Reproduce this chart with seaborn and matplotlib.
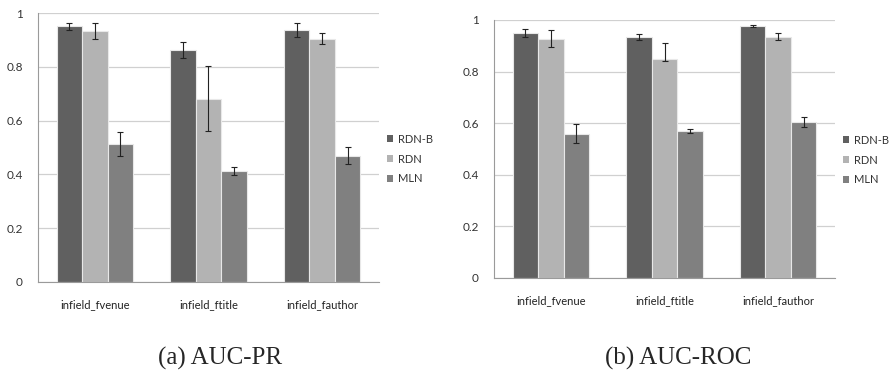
import matplotlib
matplotlib.use("Agg")
import matplotlib.pyplot as plt
import seaborn as sns
import pandas as pd
import numpy as np

categories = ["infield_fvenue", "infield_ftitle", "infield_fauthor"]
methods = ["RDN-B", "RDN", "MLN"]

# AUC-PR
pr_rdnb = [0.950, 0.864, 0.936]
pr_rdn = [0.933, 0.682, 0.905]
pr_mln = [0.513, 0.412, 0.470]
pr_rdnb_err = [0.012, 0.030, 0.026]
pr_rdn_err = [0.030, 0.122, 0.021]
pr_mln_err = [0.045, 0.014, 0.031]

# AUC-ROC
roc_rdnb = [0.950, 0.933, 0.977]
roc_rdn = [0.928, 0.849, 0.935]
roc_mln = [0.559, 0.570, 0.605]
roc_rdnb_err_lo = [0.014, 0.012, 0.005]
roc_rdnb_err_hi = [0.014, 0.012, 0.005]
roc_rdn_err_lo = [0.033, 0.006, 0.013]
roc_rdn_err_hi = [0.033, 0.062, 0.013]
roc_mln_err_lo = [0.037, 0.008, 0.020]
roc_mln_err_hi = [0.037, 0.008, 0.020]

captions = ["(a) AUC-PR", "(b) AUC-ROC"]
colors = ["#606060", "#b3b3b3", "#808080"]

sns.set_style("white")
plt.rcParams["font.family"] = ["Lato", "DejaVu Sans"]

fig = plt.figure(figsize=(8.91, 3.72), dpi=100)
ax1 = fig.add_axes([38/891, 1-282/372, (379-38)/891, (282-13)/372])
ax2 = fig.add_axes([494/891, 1-278/372, (835-494)/891, (278-20)/372])


def make_df(a, b, c):
    rows = []
    for m, vals in zip(methods, [a, b, c]):
        for cat, v in zip(categories, vals):
            rows.append({"category": cat, "method": m, "value": v})
    return pd.DataFrame(rows)


def draw(ax, df, errs_lo, errs_hi, legend_y):
    sns.barplot(data=df, x="category", y="value", hue="method", order=categories,
                hue_order=methods, palette=colors, width=0.67, errorbar=None,
                edgecolor="#e8e8e8", linewidth=0.8, ax=ax, zorder=2)
    for cont, lo, hi in zip(ax.containers, errs_lo, errs_hi):
        xs = [p.get_x() + p.get_width()/2 for p in cont.patches]
        ys = [p.get_height() for p in cont.patches]
        ax.errorbar(xs, ys, yerr=[lo, hi], fmt="none", ecolor="#222222",
                    elinewidth=0.8, capsize=2, capthick=0.8, zorder=3)
    ax.set_ylim(0, 1)
    ax.set_xlim(-0.5, 2.5)
    ax.set_yticks([0, 0.2, 0.4, 0.6, 0.8, 1.0])
    ax.set_yticklabels(["0", "0.2", "0.4", "0.6", "0.8", "1"])
    ax.yaxis.grid(True, color="#d0d0d0", linewidth=0.9, zorder=0)
    ax.set_axisbelow(True)
    for s in ["top", "right"]:
        ax.spines[s].set_visible(False)
    ax.spines["left"].set_color("#9a9a9a")
    ax.spines["bottom"].set_color("#9a9a9a")
    ax.spines["left"].set_linewidth(0.8)
    ax.spines["bottom"].set_linewidth(0.8)
    ax.tick_params(axis="y", length=3, color="#9a9a9a", labelsize=8.5,
                   labelcolor="#333333", pad=8)
    ax.set_xticks([-0.5, 0.5, 1.5, 2.5], minor=True)
    ax.tick_params(axis="x", which="major", length=0, labelsize=8,
                   labelcolor="#222222", pad=12)
    ax.tick_params(axis="x", which="minor", length=4, color="#9a9a9a")
    ax.set_xlabel("")
    ax.set_ylabel("")
    leg = ax.legend(loc="center left", bbox_to_anchor=(1.0, legend_y),
                    frameon=False, handlelength=0.6, handleheight=0.6,
                    handletextpad=0.45, labelspacing=0.8, fontsize=8,
                    borderaxespad=0.3)
    for h in leg.legend_handles:
        h.set_edgecolor("none")
    for t in leg.get_texts():
        t.set_color("#333333")
    return ax


draw(ax1, make_df(pr_rdnb, pr_rdn, pr_mln),
     [pr_rdnb_err, pr_rdn_err, pr_mln_err],
     [pr_rdnb_err, pr_rdn_err, pr_mln_err], 0.457)
draw(ax2, make_df(roc_rdnb, roc_rdn, roc_mln),
     [roc_rdnb_err_lo, roc_rdn_err_lo, roc_mln_err_lo],
     [roc_rdnb_err_hi, roc_rdn_err_hi, roc_mln_err_hi], 0.457)

fig.text(220/891, 1-358/372, captions[0], ha="center", va="center",
         fontsize=18, family=["Liberation Serif", "DejaVu Serif"])
fig.text(678/891, 1-358/372, captions[1], ha="center", va="center",
         fontsize=18, family=["Liberation Serif", "DejaVu Serif"])

fig.savefig("out.png", dpi=100)
